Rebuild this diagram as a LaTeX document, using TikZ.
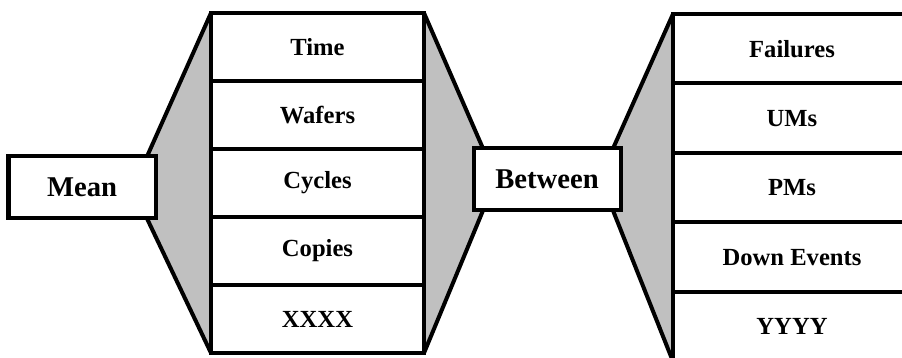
\documentclass[tikz,border=0pt]{standalone}
\usepackage{fontspec}
\setmainfont{Liberation Serif}
\usetikzlibrary{calc, backgrounds}
\definecolor{funnelgray}{RGB}{192,192,192}
\tikzstyle{every node}=[font=\bfseries]

\begin{document}
\begin{tikzpicture}[
	box/.style={draw, line width=0.08cm, fill=white, minimum width=2.94cm, minimum height=1.24cm, inner sep=0pt, outer sep=0pt, font=\fontsize{16.3}{19}\selectfont\bfseries},
	cell/.style={draw, line width=0.08cm, fill=white, inner sep=0pt, outer sep=0pt, font=\fontsize{14}{17}\selectfont\bfseries},
	funnel/.style={fill=funnelgray},
	rim/.style={line width=0.08cm}]
	\useasboundingbox (0,0) rectangle (18.04,7.16);
	\clip (0,0) rectangle (18.04,7.16);
	
	% colonnes
	\foreach \t [count=\i] in {Time,Wafers,Cycles,Copies,XXXX}
		\node[cell, minimum width=4.26cm, minimum height=1.36cm] (l\i) at (6.35,{7.58-1.36*\i}) {\t};
	\foreach \t [count=\i] in {Failures,UMs,PMs,Down Events,YYYY}
		\node[cell, minimum width=4.76cm, minimum height=1.39cm] (r\i) at (15.84,{7.575-1.39*\i}) {\t};
	
	% boites
	\node[box] (mean) at (1.64,3.41) {Mean};
	\node[box] (between) at (10.94,3.57) {Between};
	
	% entonnoirs
	\begin{scope}[on background layer]
		\coordinate (m1) at ($(mean.north east)+(-0.17,0)$);
		\coordinate (m2) at ($(mean.south east)+(-0.17,0)$);
		\coordinate (b1) at ($(between.north west)+(0.19,0)$);
		\coordinate (b2) at ($(between.south west)+(0.19,0)$);
		\coordinate (b3) at ($(between.north east)+(-0.15,0)$);
		\coordinate (b4) at ($(between.south east)+(-0.15,0)$);
		
		\fill[funnel] (m1) -- (l1.north west) -- (l5.south west) -- (m2) -- cycle;
		\fill[funnel] (l1.north east) -- (b1) -- (b2) -- (l5.south east) -- cycle;
		\fill[funnel] (b3) -- (r1.north west) -- (r5.south west) -- (b4) -- cycle;
		
		\draw[rim] (m1) -- (l1.north west);
		\draw[rim] (m2) -- (l5.south west);
		\draw[rim] (l1.north east) -- (b1);
		\draw[rim] (l5.south east) -- (b2);
		\draw[rim] (b3) -- (r1.north west);
		\draw[rim] (b4) -- (r5.south west);
	\end{scope}
\end{tikzpicture}
\end{document}
